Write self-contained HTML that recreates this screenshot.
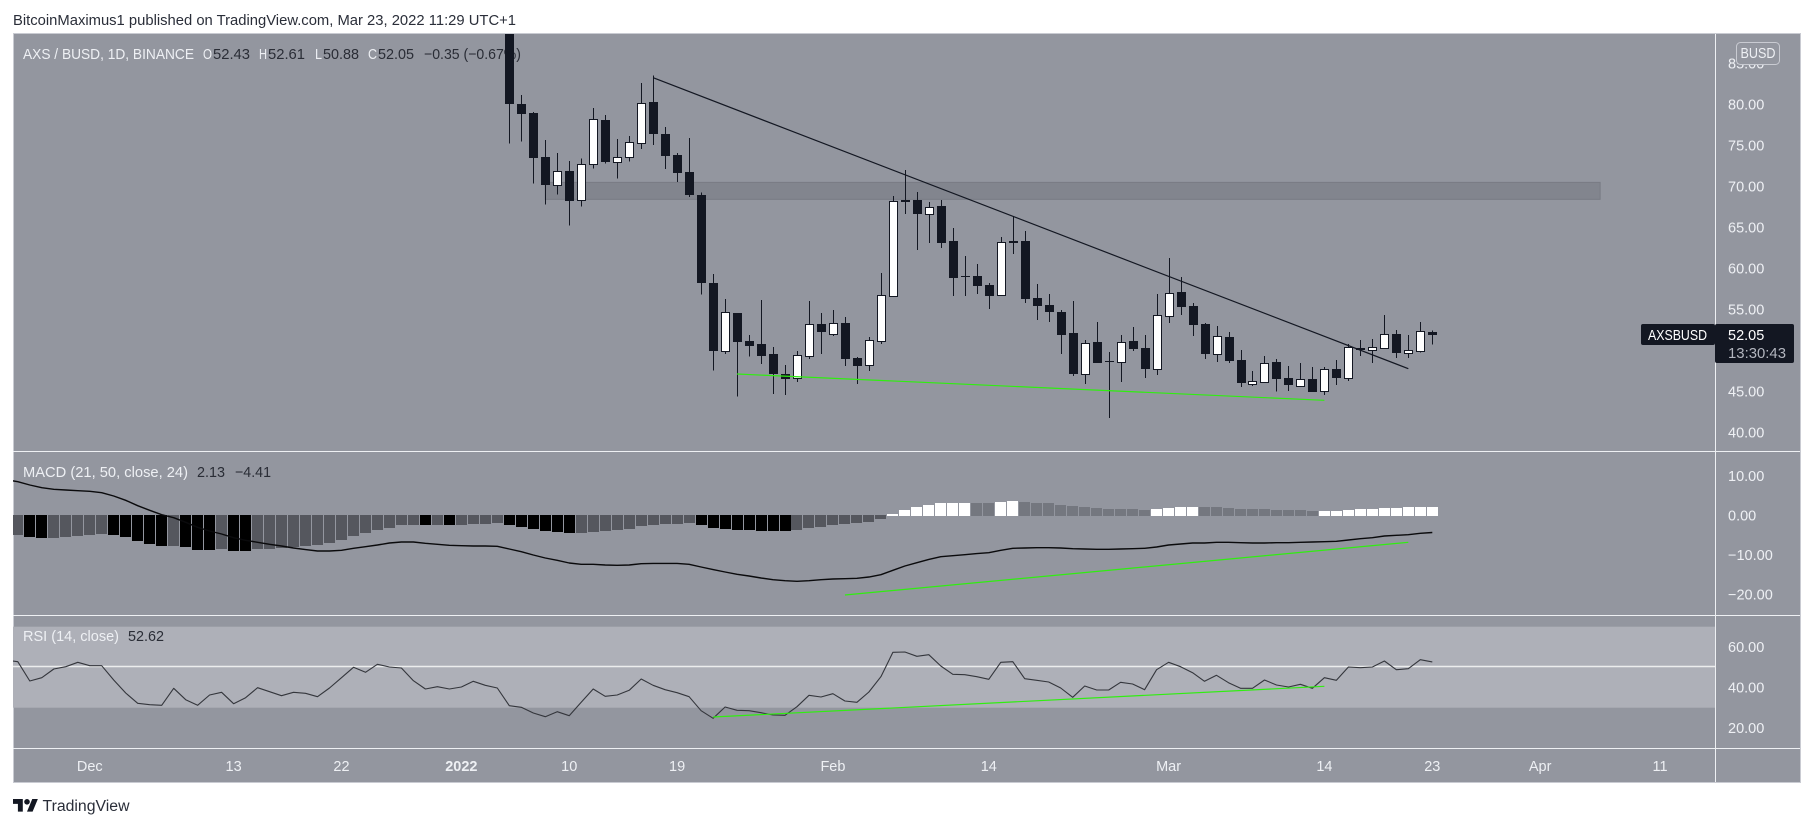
<!DOCTYPE html>
<html lang="en">
<head>
<meta charset="utf-8">
<title>AXS / BUSD chart</title>
<style>
html,body{margin:0;padding:0;background:#fff;}
svg{display:block;font-family:"Liberation Sans",sans-serif;}
.lt{fill:#eef0f4;}
.dk{fill:#2a2d36;}
</style>
</head>
<body>
<svg id="chart" xmlns="http://www.w3.org/2000/svg" width="1813" height="827" viewBox="0 0 1813 827">
  <defs>
    <clipPath id="main-clip"><rect x="13" y="34" width="1702" height="417"/></clipPath>
    <clipPath id="macd-clip"><rect x="13" y="452" width="1702" height="163"/></clipPath>
    <clipPath id="rsi-clip"><rect x="13" y="616" width="1702" height="132"/></clipPath>
  </defs>
  <rect x="0" y="0" width="1813" height="827" fill="#ffffff"/>
  <text x="13" y="25" font-size="15" fill="#2a2e39" textLength="503" lengthAdjust="spacingAndGlyphs">BitcoinMaximus1 published on TradingView.com, Mar 23, 2022 11:29 UTC+1</text>
  <rect x="13.5" y="33.5" width="1787" height="749" fill="#93969f" stroke="#c9cbd2" stroke-width="1"/>

  <g font-size="15">
    <text class="lt" x="23" y="59" textLength="171" lengthAdjust="spacingAndGlyphs">AXS / BUSD, 1D, BINANCE</text>
    <text class="lt" x="203" y="59" textLength="9" lengthAdjust="spacingAndGlyphs">O</text>
    <text class="dk" x="213" y="59" textLength="37" lengthAdjust="spacingAndGlyphs">52.43</text>
    <text class="lt" x="259" y="59" textLength="8" lengthAdjust="spacingAndGlyphs">H</text>
    <text class="dk" x="268" y="59" textLength="37" lengthAdjust="spacingAndGlyphs">52.61</text>
    <text class="lt" x="315" y="59" textLength="7" lengthAdjust="spacingAndGlyphs">L</text>
    <text class="dk" x="323" y="59" textLength="36" lengthAdjust="spacingAndGlyphs">50.88</text>
    <text class="lt" x="368" y="59" textLength="9" lengthAdjust="spacingAndGlyphs">C</text>
    <text class="dk" x="378" y="59" textLength="36" lengthAdjust="spacingAndGlyphs">52.05</text>
    <text class="dk" x="424" y="59" textLength="97" lengthAdjust="spacingAndGlyphs">−0.35 (−0.67%)</text>
  </g>

  <g id="main-pane" clip-path="url(#main-clip)"></g>
  <g id="macd-pane" clip-path="url(#macd-clip)"></g>
  <g id="rsi-pane" clip-path="url(#rsi-clip)"></g>

  <g stroke="#eef0f3" stroke-width="1" shape-rendering="crispEdges">
    <line x1="13" x2="1800" y1="451.5" y2="451.5"/>
    <line x1="13" x2="1800" y1="615.5" y2="615.5"/>
    <line x1="13" x2="1800" y1="748.5" y2="748.5"/>
    <line x1="1715.5" x2="1715.5" y1="34" y2="782"/>
  </g>

  <text class="lt" x="23" y="477" font-size="15" textLength="165" lengthAdjust="spacingAndGlyphs">MACD (21, 50, close, 24)</text>
  <text class="dk" x="197" y="477" font-size="15" textLength="28" lengthAdjust="spacingAndGlyphs">2.13</text>
  <text class="dk" x="235" y="477" font-size="15" textLength="36" lengthAdjust="spacingAndGlyphs">−4.41</text>
  <text class="lt" x="23" y="641" font-size="15" textLength="96" lengthAdjust="spacingAndGlyphs">RSI (14, close)</text>
  <text class="dk" x="128" y="641" font-size="15" textLength="36" lengthAdjust="spacingAndGlyphs">52.62</text>

  <g id="y-axis-labels" font-size="14.5" fill="#eef0f4"></g>
  <g id="x-axis-labels" font-size="14.5" fill="#eef0f4" text-anchor="middle"></g>

  <g>
    <rect x="1736.5" y="42.5" width="43" height="22" rx="4" fill="#93969f" stroke="#c9cbd2"/>
    <text x="1758" y="58" font-size="14.5" fill="#eef0f4" text-anchor="middle" textLength="35" lengthAdjust="spacingAndGlyphs">BUSD</text>
  </g>

  <g>
    <rect x="1641" y="324" width="74" height="21" rx="2" fill="#131722"/>
    <rect x="1715" y="324" width="79" height="39" rx="2" fill="#131722"/>
    <text x="1648" y="340" font-size="14.5" fill="#ffffff" textLength="59" lengthAdjust="spacingAndGlyphs">AXSBUSD</text>
    <text x="1728" y="340" font-size="14.5" fill="#ffffff">52.05</text>
    <text x="1728" y="358" font-size="14.5" fill="#b2b5be" textLength="58" lengthAdjust="spacingAndGlyphs">13:30:43</text>
  </g>

  <g>
    <g transform="translate(13,796.2) scale(0.7)" fill="#131722">
      <path d="M14 22H7V11H0V4h14v18zM28 22h-8l7.5-18h8L28 22z"/>
      <circle cx="20" cy="8" r="4"/>
    </g>
    <text x="42.5" y="811" font-size="15.5" fill="#2a2e39" textLength="87" lengthAdjust="spacingAndGlyphs">TradingView</text>
  </g>
</svg>
<script>
// Price series (one value per daily candle, starting Jan 5)
const opens = [92,80.20,79.07,73.70,70.37,71.99,68.46,72.85,78.25,73.17,73.78,75.49,80.45,76.54,73.98,71.91,69.11,58.37,50.12,54.68,51.30,50.94,49.72,47.28,46.84,49.52,53.38,52.20,53.50,49.19,48.42,51.35,56.84,68.50,68.50,66.84,67.77,63.50,59.19,59.23,58.14,56.96,63.50,63.50,56.55,55.70,54.84,52.28,47.32,51.19,48.87,48.79,51.31,50.45,47.93,54.40,57.28,55.58,53.38,49.76,51.80,48.99,46.10,46.34,48.70,46.79,45.85,46.67,45.24,47.89,46.83,50.41,50.24,50.49,52.11,49.88,50.12,52.43];
const highs = [95,81.30,79.23,75.81,74.23,73.25,73.58,79.72,78.86,75.94,76.30,82.76,83.70,77.40,74.23,76.06,69.43,59.47,56.42,54.68,52.03,56.31,50.58,48.38,50.09,56.19,54.72,55.09,54.23,49.36,51.80,59.60,68.99,72.16,69.48,68.26,68.50,65.09,61.67,60.70,58.38,63.99,66.55,64.72,58.26,57.04,55.09,56.19,51.43,53.62,49.97,52.04,53.01,52.04,57.04,61.43,59.11,55.94,53.50,53.14,52.41,50.21,47.65,49.47,49.11,48.25,48.62,48.13,48.13,48.98,50.94,51.42,51.55,54.47,52.64,52.03,53.62,52.61];
const lows = [75.41,75.61,70.49,67.93,69.15,65.37,67.68,72.32,72.93,71.10,73.17,74.72,75.20,72.28,70.69,68.86,56.95,47.68,49.72,44.51,49.39,48.50,44.84,44.72,46.31,49.11,49.72,51.92,48.26,46.06,47.65,50.94,56.84,66.80,62.40,63.26,62.65,56.80,56.80,57.04,55.21,56.80,61.92,55.94,53.87,53.62,49.72,47.04,46.06,48.62,41.92,46.31,50.09,46.80,47.16,53.50,54.48,51.92,49.11,48.75,48.62,45.70,45.82,46.34,45.12,45.20,45.85,45.08,44.72,45.94,46.42,49.47,48.62,50.33,49.23,49.23,49.88,50.88];
const closes = [80.24,79.02,73.66,70.37,71.99,68.41,72.85,78.33,73.17,73.70,75.53,80.28,76.59,73.86,71.79,69.11,58.37,50.08,54.80,51.18,50.69,49.48,47.28,46.67,49.56,53.34,52.41,53.46,49.11,48.26,51.39,56.88,68.34,68.26,66.80,67.61,63.26,58.99,59.11,58.01,56.80,63.34,63.30,56.43,55.58,54.84,52.04,47.28,51.02,48.62,48.79,51.15,50.33,47.89,54.44,57.12,55.45,53.26,49.72,51.88,48.87,46.19,46.39,48.58,46.67,45.94,46.63,45.08,47.85,46.79,50.53,50.20,50.53,52.11,49.84,50.20,52.48,52.05];

// MACD histogram (one bar per day, candle index -41 onward)
const macdHist = [-4.97,-5.56,-5.81,-5.81,-5.56,-5.30,-5.05,-4.80,-5.05,-5.56,-6.57,-7.32,-7.83,-7.83,-8.08,-8.84,-8.84,-8.59,-9.09,-9.09,-8.59,-8.59,-8.33,-8.08,-7.83,-7.58,-7.07,-6.31,-5.30,-4.55,-3.79,-3.28,-2.53,-2.53,-2.53,-2.53,-2.53,-2.53,-2.27,-2.27,-2.02,-2.53,-3.03,-3.54,-4.04,-4.29,-4.55,-4.55,-4.29,-4.04,-3.79,-3.54,-2.78,-2.53,-2.27,-2.27,-2.02,-2.53,-3.28,-3.54,-3.79,-3.79,-4.04,-4.04,-4.04,-3.79,-3.28,-3.03,-2.53,-2.27,-2.02,-1.77,-1.01,0.25,1.26,2.10,2.53,3.03,3.03,3.03,3.03,3.03,3.28,3.54,3.28,3.03,3.03,2.53,2.27,2.02,1.77,1.52,1.52,1.52,1.26,1.52,1.77,2.02,2.02,2.02,2.02,1.77,1.52,1.52,1.52,1.26,1.26,1.26,1.01,1.01,1.01,1.26,1.52,1.52,1.77,1.77,2.02,2.02,2.13];
// 1 = strong colour (black / white), 0 = muted colour (greys)
const macdHistStrong = [0,1,1,0,0,0,0,0,1,1,1,1,1,0,1,1,1,0,1,1,0,0,0,0,0,0,0,0,0,0,0,0,0,0,1,0,1,0,0,0,0,1,1,1,1,1,1,0,0,0,0,0,0,0,0,0,0,1,1,1,1,1,1,1,1,0,0,0,0,0,0,0,0,1,1,1,1,1,1,1,0,0,1,1,0,0,0,0,0,0,0,0,0,0,0,1,1,1,1,0,0,0,0,0,0,0,0,0,0,1,1,1,1,1,1,1,1,1,1];
// MACD line (candle index -42 onward)
const macdLine = [8.93,8.42,7.58,6.90,6.48,6.31,6.14,5.98,5.64,4.80,3.70,2.36,1.18,0.08,-0.67,-1.85,-3.11,-4.04,-4.80,-5.72,-6.40,-6.90,-7.41,-7.83,-8.33,-8.75,-9.09,-9.09,-8.92,-8.42,-8.00,-7.58,-7.07,-6.82,-6.82,-7.15,-7.41,-7.66,-7.74,-7.83,-7.83,-7.91,-8.59,-9.26,-10.10,-10.86,-11.45,-12.12,-12.46,-12.46,-12.63,-12.71,-12.63,-12.29,-12.21,-12.21,-12.21,-12.46,-13.13,-13.80,-14.39,-14.98,-15.40,-15.91,-16.33,-16.58,-16.75,-16.58,-16.33,-16.16,-16.08,-15.99,-15.66,-15.07,-13.97,-12.88,-12.04,-11.20,-10.52,-10.27,-10.02,-9.76,-9.51,-8.92,-8.42,-8.33,-8.25,-8.25,-8.33,-8.50,-8.59,-8.67,-8.67,-8.59,-8.50,-8.42,-8.08,-7.58,-7.32,-7.07,-7.07,-6.90,-6.90,-6.99,-7.07,-7.07,-6.99,-6.99,-6.90,-6.82,-6.73,-6.65,-6.31,-5.98,-5.72,-5.30,-5.13,-4.97,-4.63,-4.41];
// RSI line (candle index -42 onward)
const rsiLine = [53.56,52.73,43.19,44.83,49.11,50.26,52.40,50.76,50.76,43.68,37.26,32.16,31.50,31.17,39.56,33.97,31.17,36.27,37.59,31.99,34.96,39.89,37.92,35.94,37.59,37.10,35.45,39.73,44.83,49.93,47.47,51.42,50.10,49.61,43.35,39.24,40.39,39.24,40.22,43.02,41.05,39.73,31.00,30.18,27.38,25.57,28.04,26.07,32.65,39.24,35.61,36.27,38.58,44.17,41.05,38.91,37.42,35.45,28.53,24.75,30.35,28.70,28.53,27.55,26.40,26.23,30.51,36.11,35.28,36.93,33.31,32.65,37.75,45.32,57.34,57.51,55.37,56.19,50.59,46.48,46.31,45.32,44.01,52.40,52.73,44.34,43.51,42.69,39.73,35.12,40.72,38.74,38.74,42.53,41.70,38.91,48.78,52.40,50.26,47.30,43.02,45.98,42.36,39.56,39.56,43.68,41.21,40.22,41.54,39.56,44.83,43.51,50.10,49.77,50.10,53.06,48.78,49.27,53.72,52.62];

// Axis ticks
const priceTicks = [85,80,75,70,65,60,55,45,40];
const macdTicks = [10,0,-10,-20];
const rsiTicks = [60,40,20];
const timeLabels = ["Dec","13","22","2022","10","19","Feb","14","Mar","14","23","Apr","11"];
const timeLabelIndex = [-35,-23,-14,-4,5,14,27,40,55,68,77,86,96];

// Drawings: [start candle, start value, end candle, end value]
const resistanceTrend = [12,83.41,75,47.93];
const priceSupportTrend = [19,47.28,68,44.07];
const macdSupportTrend = [28,-20.2,75,-6.90];
const rsiSupportTrend = [17,25.41,68,40.55];
const resistanceZone = [3,70.65,91,68.58];

const NS = 'http://www.w3.org/2000/svg';
const xAt = i => 509.3 + i * 11.987;
const priceY = p => 433.7 - (p - 40) * 8.2;
const macdY = v => 515 - v * 3.96;
const rsiY = v => 667.2 - (v - 50) * 2.025;
const fmt = v => (v < 0 ? '\u2212' : '') + Math.abs(v).toFixed(2);

function mk(tag, attrs, parent) {
  const el = document.createElementNS(NS, tag);
  for (const k in attrs) el.setAttribute(k, attrs[k]);
  parent.appendChild(el);
  return el;
}

const mainPane = document.getElementById('main-pane');
const macdPane = document.getElementById('macd-pane');
const rsiPane = document.getElementById('rsi-pane');
const yAxis = document.getElementById('y-axis-labels');
const xAxis = document.getElementById('x-axis-labels');

// Resistance zone
const zone = mk('rect', {
  x: xAt(resistanceZone[0]), y: priceY(resistanceZone[1]),
  width: xAt(resistanceZone[2]) - xAt(resistanceZone[0]),
  height: priceY(resistanceZone[3]) - priceY(resistanceZone[1]),
  fill: '#82858e', stroke: '#787b84', 'stroke-width': 1
}, mainPane);



// Candles
opens.forEach((o, i) => {
  const c = closes[i];
  const up = c > o;
  const cx = Math.round(xAt(i)) + 0.5;
  const g = mk('g', { 'shape-rendering': 'crispEdges' }, mainPane);
  
  
  mk('line', { x1: cx, x2: cx, y1: priceY(highs[i]), y2: priceY(lows[i]), stroke: '#131722', 'stroke-width': 1 }, g);
  const top = Math.round(priceY(Math.max(o, c)));
  const bot = Math.round(priceY(Math.min(o, c)));
  if (up) {
    mk('rect', { x: cx - 4, y: top + 0.5, width: 8, height: Math.max(bot - top, 1), fill: '#ffffff', stroke: '#131722', 'stroke-width': 1 }, g);
  } else {
    mk('rect', { x: cx - 4.5, y: top, width: 9, height: Math.max(bot - top, 1), fill: '#131722' }, g);
  }
});

function trend(parent, d, yFn, color, width, name) {
  const l = mk('line', { x1: xAt(d[0]), y1: yFn(d[1]), x2: xAt(d[2]), y2: yFn(d[3]), stroke: color, 'stroke-width': width }, parent);
  
  
}
trend(mainPane, resistanceTrend, priceY, '#131722', 1.2, 'resistance-trendline');
trend(mainPane, priceSupportTrend, priceY, '#30ee10', 1.2, 'price-support-trendline');

// MACD histogram
macdHist.forEach((v, k) => {
  const cx = xAt(k - 41);
  const strong = macdHistStrong[k] === 1;
  const fill = v < 0 ? (strong ? '#000000' : '#55575e') : (strong ? '#ffffff' : '#74777f');
  const y = macdY(v);
  const bar = mk('rect', {
    x: Math.round(cx - 5.5), width: 11,
    y: v < 0 ? 515 : Math.round(y),
    height: v < 0 ? Math.round(y - 515) : Math.round(516 - y),
    fill: fill, 'shape-rendering': 'crispEdges'
  }, macdPane);
  
  
});

const macdPath = mk('polyline', {
  points: macdLine.map((v, k) => xAt(k - 42).toFixed(1) + ',' + macdY(v).toFixed(1)).join(' '),
  fill: 'none', stroke: '#0a0a0c', 'stroke-width': 1.4, 'stroke-linejoin': 'round'
}, macdPane);


trend(macdPane, macdSupportTrend, macdY, '#30ee10', 1.2, 'macd-support-trendline');

// RSI
const band = mk('rect', { x: 13, y: rsiY(70), width: 1702, height: rsiY(30) - rsiY(70), fill: '#aeb0b8' }, rsiPane);


const mid = mk('line', { x1: 13, x2: 1715, y1: rsiY(50) - 0.7, y2: rsiY(50) - 0.7, stroke: '#eceded', 'stroke-width': 1.6 }, rsiPane);


const rsiPath = mk('polyline', {
  points: rsiLine.map((v, k) => xAt(k - 42).toFixed(1) + ',' + rsiY(v).toFixed(1)).join(' '),
  fill: 'none', stroke: '#34363c', 'stroke-width': 1.1, 'stroke-linejoin': 'round'
}, rsiPane);


trend(rsiPane, rsiSupportTrend, rsiY, '#30ee10', 1.2, 'rsi-support-trendline');

// Axis labels
priceTicks.forEach(v => {
  const t = mk('text', { x: 1728, y: priceY(v) + 4 }, yAxis);
  t.textContent = fmt(v);
  
  
});
macdTicks.forEach(v => {
  const t = mk('text', { x: 1728, y: macdY(v) + 5.5 }, yAxis);
  t.textContent = fmt(v);
  
  
});
rsiTicks.forEach(v => {
  const t = mk('text', { x: 1728, y: rsiY(v) + 5 }, yAxis);
  t.textContent = fmt(v);
  
  
});
timeLabels.forEach((label, n) => {
  const t = mk('text', { x: xAt(timeLabelIndex[n]), y: 771 }, xAxis);
  t.textContent = label;
  if (label === '2022') t.setAttribute('font-weight', 'bold');
  
  
});
</script>
</body>
</html>
